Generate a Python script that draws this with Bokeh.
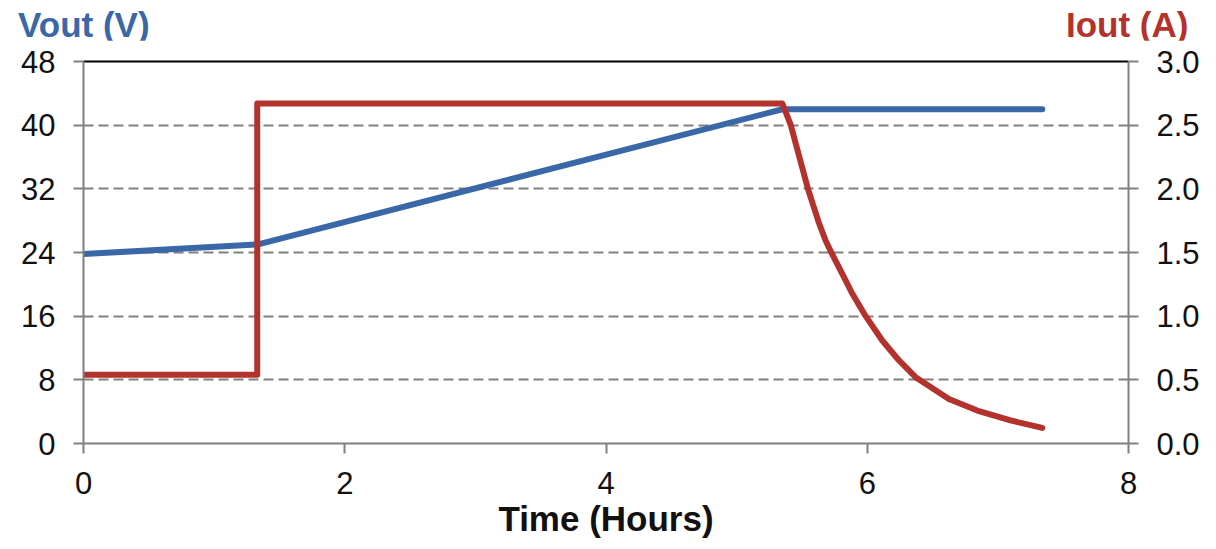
from bokeh.plotting import figure
from bokeh.models import (Range1d, LinearAxis, FixedTicker, PrintfTickFormatter,
                          Grid, Div)
from bokeh.layouts import column
from bokeh.embed import file_html
from bokeh.resources import INLINE

# Data
time_v = [0.0, 1.33, 5.35, 7.34]
vout = [23.8, 25.0, 42.0, 42.0]

time_i = [0.0, 1.33, 1.33, 5.35, 5.414, 5.477, 5.546, 5.628, 5.681, 5.725,
          5.809, 5.886, 5.988, 6.115, 6.243, 6.37, 6.625, 6.842, 7.097, 7.34]
iout = [0.54, 0.54, 2.67, 2.67, 2.503, 2.262, 2.0, 1.738, 1.594, 1.5,
        1.333, 1.176, 1.0, 0.809, 0.652, 0.521, 0.35, 0.259, 0.181, 0.123]

x_ticks = [0, 2, 4, 6, 8]
v_ticks = [0, 8, 16, 24, 32, 40, 48]
v_grid = [8, 16, 24, 32, 40]
i_ticks = [0.0, 0.5, 1.0, 1.5, 2.0, 2.5, 3.0]

title_left = "Vout (V)"
title_right = "Iout (A)"
x_title = "Time (Hours)"

BLUE = "#3a67a8"
RED = "#b3322d"
GRAY = "#808080"
FONT = "Liberation Sans"

W = 1208
HEAD_H = 40

span_css = ("position:absolute;top:7px;font-family:'Liberation Sans',Arial,sans-serif;"
            "font-weight:bold;font-size:35px;line-height:1;white-space:nowrap;")
head_html = (
    f'<div style="position:relative;width:{W}px;height:{HEAD_H}px;overflow:visible;">'
    f'<span style="{span_css}left:18px;color:{BLUE};">{title_left}</span>'
    f'<span style="{span_css}left:1066px;color:{RED};">{title_right}</span>'
    '</div>'
)
head = Div(text=head_html, width=W, height=HEAD_H, margin=(0, 0, 0, 0),
           styles={"overflow": "visible"})

p = figure(width=W, height=508, output_backend="svg", toolbar_location=None,
           x_range=Range1d(0, 8), y_range=Range1d(0, 48),
           min_border_left=83, min_border_right=80, min_border_top=21,
           min_border_bottom=105, x_axis_type=None, y_axis_type=None)
p.extra_y_ranges = {"i": Range1d(0, 3)}
p.outline_line_color = None
p.background_fill_color = "white"
p.border_fill_color = "white"


def style_axis(ax, size="31px"):
    ax.axis_line_color = GRAY
    ax.axis_line_width = 2
    ax.major_tick_line_color = GRAY
    ax.major_tick_line_width = 2
    ax.major_tick_out = 10
    ax.major_tick_in = 0
    ax.minor_tick_line_color = None
    ax.major_label_text_font = FONT
    ax.major_label_text_font_size = size
    ax.major_label_text_color = "#111111"


xaxis = LinearAxis(ticker=FixedTicker(ticks=x_ticks))
style_axis(xaxis)
xaxis.major_label_standoff = 18
xaxis.axis_label = x_title
xaxis.axis_label_text_font = FONT
xaxis.axis_label_text_font_size = "35px"
xaxis.axis_label_text_font_style = "bold"
xaxis.axis_label_text_color = "#111111"
xaxis.axis_label_standoff = 2
p.add_layout(xaxis, "below")

yaxis = LinearAxis(ticker=FixedTicker(ticks=v_ticks))
style_axis(yaxis)
yaxis.major_label_standoff = 18
p.add_layout(yaxis, "left")

raxis = LinearAxis(y_range_name="i", ticker=FixedTicker(ticks=i_ticks),
                   formatter=PrintfTickFormatter(format="%.1f"))
style_axis(raxis)
raxis.major_label_standoff = 18
p.add_layout(raxis, "right")

top = LinearAxis(ticker=FixedTicker(ticks=[]))
top.axis_line_color = "black"
top.axis_line_width = 2
top.major_tick_line_color = None
top.major_tick_out = 0
top.major_tick_in = 0
top.major_label_standoff = 0
top.minor_tick_line_color = None
top.major_label_text_font_size = "0px"
p.add_layout(top, "above")

grid = Grid(dimension=1, ticker=FixedTicker(ticks=v_grid),
            grid_line_color=GRAY, grid_line_width=2, grid_line_dash="10 5")
p.add_layout(grid)

p.line(time_v, vout, line_color=BLUE, line_width=6, line_cap="round", line_join="round")
p.line(time_i, iout, y_range_name="i", line_color=RED, line_width=6,
       line_cap="round", line_join="round")

layout = column(head, p, spacing=0)
open("out.html", "w").write(file_html(layout, INLINE))
